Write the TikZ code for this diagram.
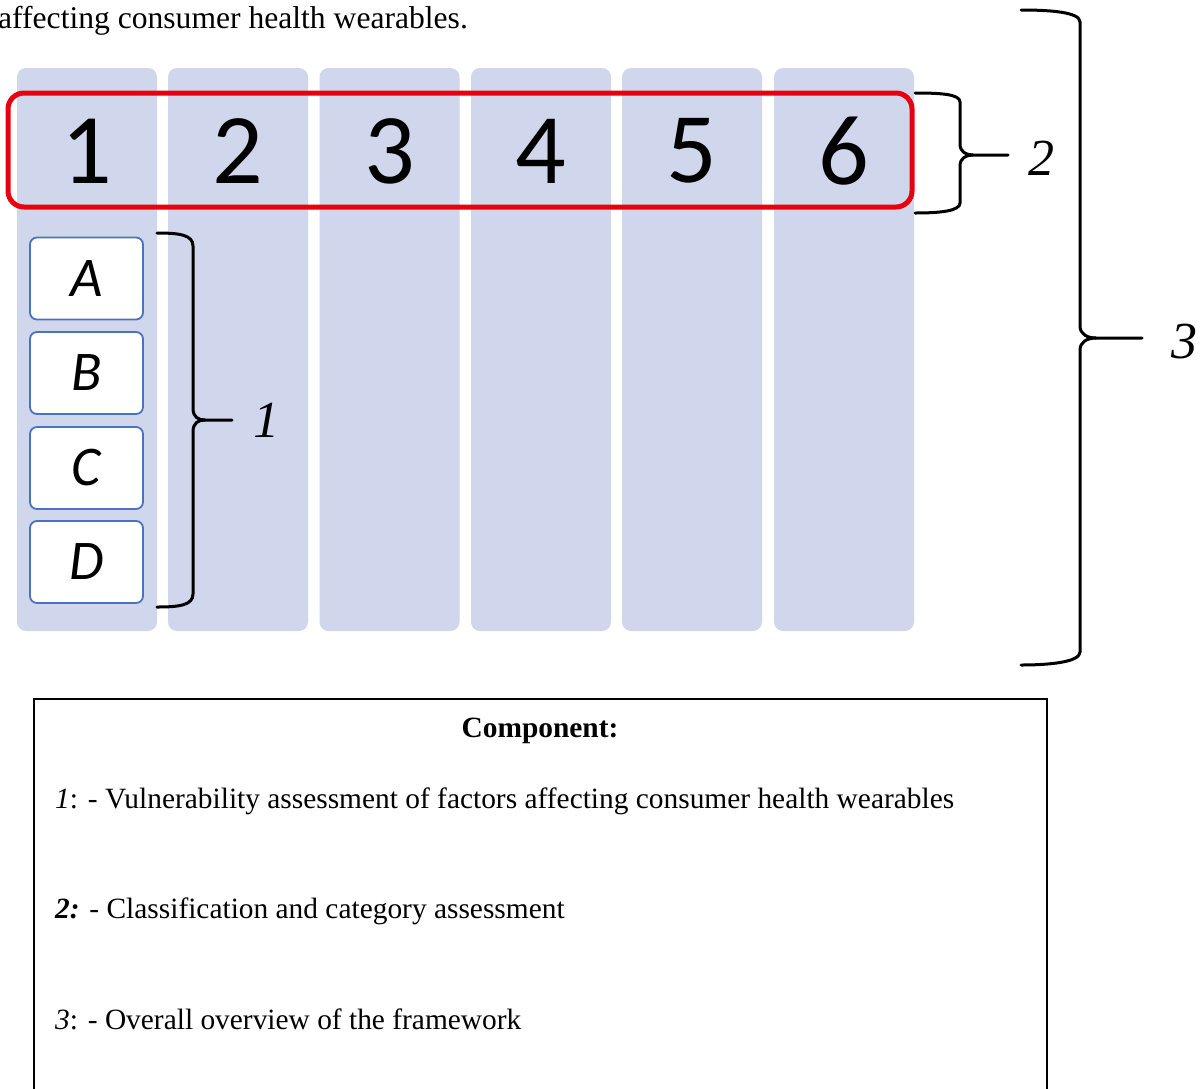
\documentclass[tikz,border=0pt]{standalone}
\usepackage{fontspec}
\setmainfont{Liberation Serif}
\newfontfamily\calib{Carlito}
\begin{document}
\begin{tikzpicture}[x=1pt,y=-1pt,
  colbar/.style={fill=lavender, draw=none, rounded corners=9pt,
    minimum width=140pt, minimum height=563pt, inner sep=0pt},
  colnum/.style={font=\calib\fontsize{100}{100}\selectfont, inner sep=0pt},
  itembox/.style={draw=boxblue, line width=1.8pt, fill=white, rounded corners=7pt,
    minimum width=113pt, minimum height=82pt, inner sep=0pt,
    font=\calib\itshape\fontsize{56}{56}\selectfont},
  bracepath/.style={line width=3pt, draw=black, line cap=round},
  bracelabel/.style={font=\itshape\fontsize{52}{52}\selectfont, inner sep=0pt},
  legendtext/.style={font=\fontsize{29.4}{32}\selectfont, anchor=base west, inner sep=0pt}]
\definecolor{lavender}{RGB}{208,214,236}
\definecolor{boxblue}{RGB}{74,114,192}
\definecolor{framered}{RGB}{232,0,16}
\useasboundingbox[fill=white] (0,0) rectangle (1201,1088);

% caption fragment above the figure
\node[anchor=base west, inner sep=0pt, font=\fontsize{31.6}{34}\selectfont] (cap) at (-2,28)
  {affecting consumer health wearables.};

% six framework columns
\foreach \i/\x in {1/87,2/238,3/389.5,4/541,5/692,6/844}{
  \node[colbar] (col\i) at (\x,349.5) {};
  \node[colnum] (num\i) at (\x,151) {\i};
}

% red frame around the category row
\draw[framered, line width=5pt, rounded corners=16pt] (8,93) rectangle (912,207);

% factor boxes A-D
\node[itembox] (boxA) at (86.5,278.5) {A};
\node[itembox] (boxB) at (86.5,373) {B};
\node[itembox] (boxC) at (86.5,468) {C};
\node[itembox] (boxD) at (86.5,562) {D};

% brace 1
\coordinate (b1t) at (157,233);
\coordinate (b1b) at (157,607);
\coordinate (b1tip) at (232,420);
\draw[bracepath] (b1t) .. controls (180,233) and (193,235) .. (193,246)
  -- (193,408) .. controls (193,417) and (198,420) .. (205,420) -- (b1tip);
\draw[bracepath] (205,420) .. controls (198,420) and (193,423) .. (193,432)
  -- (193,594) .. controls (193,605) and (180,607) .. (b1b);
\node[bracelabel] (lab1) at (266,420) {1};

% brace 2
\coordinate (b2t) at (915,93);
\coordinate (b2b) at (915,213);
\coordinate (b2tip) at (1008,155);
\draw[bracepath] (b2t) .. controls (940,93) and (960,94) .. (960,102)
  -- (960,144) .. controls (960,152) and (966,155) .. (973,155) -- (b2tip);
\draw[bracepath] (973,155) .. controls (966,155) and (960,158) .. (960,166)
  -- (960,203) .. controls (960,211) and (940,213) .. (b2b);
\node[bracelabel] (lab2) at (1041,158) {2};

% brace 3
\coordinate (b3t) at (1021,10);
\coordinate (b3b) at (1021,665);
\coordinate (b3tip) at (1142,338);
\draw[bracepath] (b3t) .. controls (1050,10) and (1080,12) .. (1080,22)
  -- (1080,326) .. controls (1080,334) and (1087,338) .. (1096,338) -- (b3tip);
\draw[bracepath] (1096,338) .. controls (1087,338) and (1080,342) .. (1080,350)
  -- (1080,652) .. controls (1080,662) and (1050,665) .. (b3b);
\node[bracelabel] (lab3) at (1184,342) {3};

% legend panel
\draw[line width=2pt] (34,1095) -- (34,699) -- (1047,699) -- (1047,1095);
\node[font=\bfseries\fontsize{29.4}{32}\selectfont, anchor=base, inner sep=0pt] (legtitle) at (540,737) {Component:};
\node[legendtext] (leg1) at (55,808) {\textit{1}: - Vulnerability assessment of factors affecting consumer health wearables};
\node[legendtext] (leg2) at (55,918) {\textbf{\textit{2:}} - Classification and category assessment};
\node[legendtext] (leg3) at (55,1029) {\textit{3}: - Overall overview of the framework};
\end{tikzpicture}
\end{document}
